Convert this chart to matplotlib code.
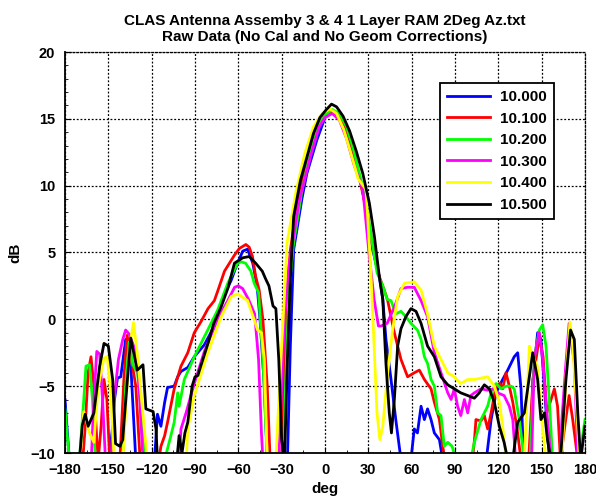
"""CLAS antenna azimuth cut, raw data, six frequencies (recreated)."""

import matplotlib
matplotlib.use("Agg")
import matplotlib.pyplot as plt
from matplotlib.ticker import MultipleLocator

plt.rcParams["font.family"] = ["Liberation Sans", "DejaVu Sans"]
plt.rcParams["font.weight"] = "bold"

TITLE = ("CLAS Antenna Assemby 3 & 4 1 Layer RAM 2Deg Az.txt\n"
         "Raw Data (No Cal and No Geom Corrections)")
LABELS = ["10.000", "10.100", "10.200", "10.300", "10.400", "10.500"]
COLORS = ["#0000ff", "#ff0000", "#00ff00", "#ff00ff", "#ffff00", "#000000"]

# (deg, dB) points; values below -10 run off the axes
blue_deg = [-180, -177, -150, -147, -146, -143.7, -141.4, -138, -134.5, -131, -118,
            -116, -113.6, -111, -109, -104.4, -102, -99.7, -95, -90.5, -83.5, -76.6,
            -72, -69.6, -65, -62, -57, -53.6, -50, -47, -45, -42, -40, -26, -24,
            -21.7, -16, -12.6, -5.7, 0, 5, 10, 15, 20, 24, 28, 33, 37.6, 40, 42.2,
            45.7, 49, 52.6, 59.5, 61.8, 64, 66.5, 68.8, 71, 73.4, 75.7, 79.2, 81.5,
            110, 112, 115, 118.4, 123, 126.5, 131, 133.4, 135.7, 137.5, 142, 144,
            147.2, 149.5, 152, 155.3, 180]
blue_db = [-6, -10.5, -11, -8, -6.2, -4.4, -4.3, -1.5, -3.3, -10.5, -10.5,
           -7.1, -8, -6.2, -5.1, -5, -4.3, -3.9, -3.6, -2.8, -1.9, -0.5,
           1.2, 1.9, 2.9, 3.8, 5.1, 5.25, 4.2, 2.5, 0, -5, -10.5, -10.5, -2,
           5.2, 9, 10.9, 13.4, 15.1, 15.5, 15.2, 14, 12, 10.7, 8.5, 5.2, 3.2, 1.5, -1.5,
           -4.5, -7.5, -10.5, -10.5, -8.2, -8.5, -6.5, -7.5, -6.7, -7.5, -8.5, -9, -10.5,
           -10.5, -10.2, -7.5, -5.5, -4.5, -3.8, -2.8, -2.5, -5.2, -10.5, -10.5, -4.5,
           -1, -1.5, -5.2, -10.5, -11]

red_deg = [-180, -168, -166, -164, -162, -160, -158, -157, -155, -153, -151, -149,
           -142, -139, -137, -134, -131, -128, -115, -113.6, -111, -109, -104.4,
           -99.7, -95, -90.5, -86, -81, -76.6, -74, -69.6, -62.7, -59.3, -54.8,
           -52.5, -50.2, -48, -45.6, -43, -40, -38, -30, -28, -26, -24, -18, -12,
           -6, 0, 5, 10, 15, 20, 25, 30, 35, 37.6, 41, 43.4, 48, 52.6, 57.2, 61.8,
           65.3, 68.8, 73.4, 75.7, 79.2, 81.5, 83, 102, 103.5, 104.5, 108, 110.3,
           112.6, 115, 118.4, 121, 123, 125.3, 127.6, 130, 133, 135.7, 141, 144,
           148.4, 151, 153.5, 156.5, 158.8, 161, 163, 166, 169, 171.5, 175, 180]
red_db = [-11, -11, -8, -4, -2.8, -5, -9, -10.5, -8, -4.5, -6, -10.5,
          -10.5, -4, -1.2, -3, -5, -10.5, -10.5, -9.5, -8.7, -7.7, -5.2,
          -3.5, -2.5, -1, -0.2, 0.8, 1.4, 2.2, 3.6, 4.8, 5.3, 5.6,
          5.4, 4.7, 3.2, 2.2, 0, -5, -10.5, -10.5, -3, 2, 5.2, 9.5, 12.2,
          14.2, 15.3, 15.6, 15.3, 14.2, 12.4, 10, 7.4, 4.3, 3.2, 2.2, 1.4, -1, -3, -4.3, -4,
          -3.8, -4.5, -5.2, -6.2, -7.5, -9.5, -10.5, -10.5, -9, -7.5, -7.6, -7.2,
          -8.2, -7, -5, -4.8, -5.2, -4, -5, -6.2, -8.2, -10.5, -10.5, -4.5,
          -1.3, -2.8, -7, -6, -5.2, -6.5, -10.5, -8, -5.7, -7.5, -10.5, -11]

green_deg = [-180, -177, -170, -167, -165.5, -163, -161, -159, -140, -138, -135.6,
             -133, -129.8, -126, -124, -111, -106.7, -104.4, -102, -101, -97.4,
             -90.5, -81.2, -74.3, -67.3, -60.5, -58, -55, -51.3, -49, -46, -43, -40,
             -29, -27, -25, -22, -16, -10, -4, 0, 5, 10, 15, 20, 25, 30, 36, 40, 43,
             45.7, 49, 52.6, 56, 59.5, 64, 66.5, 68.8, 71, 73.4, 75.7, 78, 80.3, 82.6,
             85, 88, 90.7, 101, 103.4, 108, 112.6, 115, 118.4, 121.9, 125.3, 128.8,
             131, 134.5, 138, 142, 145, 148.4, 150.7, 153, 155.5, 157.6, 176, 178, 180]
green_db = [-6.7, -10.5, -10.5, -6, -3.5, -3.4, -6, -10.5, -10.5, -5, -1.7,
            -3.4, -4, -8.2, -10.5, -10.5, -8.7, -7.7, -5.5, -6.5, -4.5,
            -2.8, -0.8, 0.7, 2.7, 4.2, 4.3, 4.2, 3.6, 2.7, 2, -3, -10.5,
            -10.5, -4, 2, 5.5, 9.6, 12.6, 14.6, 15.3, 15.7, 15.4, 14.4, 12.6, 10.4, 7.6, 3.5, 2.5, 1.5,
            1.4, 0.4, 0.6, 0.2, -0.3, -0.8, -1.5, -2.8, -3.3, -4.5, -5, -7, -7.2, -9.5,
            -9.2, -9.5, -10.5, -10.5, -9.2, -7.5, -6.5, -5.5, -4.8, -5.2, -5, -5,
            -5.2, -7.5, -10.5, -10.5, -2.8, -0.8, -0.4, -2, -6.5, -10.5, -10.5, -9, -7.5]

magenta_deg = [-180, -162, -160, -158, -156, -154, -152, -148, -146, -143, -140,
               -138, -135.6, -131, -129, -126, -101, -99.7, -96.2, -90.5, -83.5,
               -74.3, -67.3, -62.6, -60, -57, -53, -48.7, -46, -44, -43, -32, -30,
               -28, -25, -18, -10, -4, 0, 5, 10, 15, 20, 26.2, 30.7, 34, 37, 38.8, 43,
               48, 52.6, 57.2, 61.8, 66.5, 71, 75.7, 80.3, 85, 87.3, 89.5, 91.8, 94,
               96.5, 98.8, 101, 103.4, 108, 112.6, 117.2, 119.5, 124, 127.6, 130, 132,
               143, 145, 148.4, 150.7, 154, 156.5, 163, 164, 166.8, 169, 172.6, 175, 180]
magenta_db = [-11, -11, -6, -2.4, -2.6, -6, -10.5, -10.5, -6, -3, -1.5,
              -0.8, -1.1, -2.4, -4.5, -10.5, -10.5, -8.2, -7, -4.8, -2.4,
              0, 1.4, 2.4, 2.5, 2.3, 1.5, 0.4, -3, -8.5, -10.5, -10.5, -5,
              0, 4, 8.8, 12.2, 14.4, 15.1, 15.4, 14.9, 13.5, 11.6, 9.7, 4.7, 1.5, -0.5, -0.5, -0.3,
              0.9, 2.3, 2.4, 2.4, 1.4, 0.2, -2.5, -4, -5.5, -6, -5.2, -6.5, -7.2,
              -6, -7, -5.7, -5.5, -5.2, -5.3, -5.2, -5.5, -5.7, -6.5, -7.5, -10.5,
              -10.5, -2.8, -1, -3, -7.5, -10.5, -10.5, -7.5, -3.3, -0.3, -3.3, -10.5, -11]

yellow_deg = [-180, -170, -168, -167, -163, -160, -157, -153, -150.7, -148, -146,
              -140, -137, -134.5, -132.6, -130, -127, -123, -96, -95, -90.5, -81.2,
              -71.9, -65, -60.5, -53.6, -46.6, -44, -42, -40, -34, -31, -28, -26.3,
              -20, -14, -8, -2, 3.4, 8, 13, 18, 23, 28.5, 31.9, 34, 36, 38, 40, 43.4,
              46.8, 50.3, 55, 61.8, 66.5, 71, 75.7, 80.3, 85, 89.5, 94, 98.8, 103.4,
              108, 112.6, 117.2, 120.7, 123, 125.3, 138, 141.5, 144, 147, 149.5, 153,
              164, 167, 169.6, 171.5, 174.5, 176, 180]
yellow_db = [-11, -11, -8, -6.9, -8.5, -9.2, -5, -2.9, -2.8, -6, -10.5,
             -10.5, -5, -1.5, -0.25, -2.5, -6, -10.5, -10.5, -8.2, -5.7, -2.5,
             0.2, 1.7, 1.9, 1.4, -0.8, -1, -3, -10.5, -10.5, -4, 2, 5.7,
             9.6, 12.4, 14.4, 15.4, 15.75, 15.4, 14.2, 12.4, 10.5, 9.7, 3.2, -2, -7, -9, -8, -4,
             -0.8, 1.7, 2.7, 2.8, 2.2, 0.4, -2, -3, -4, -4.3, -4.8, -4.5, -4.5,
             -4.4, -4.3, -5, -6.2, -8, -10.5, -10.5, -2, -2.8, -3.5, -7, -10.5,
             -10.5, -4, -0.2, -2, -7, -10.5, -11]

black_deg = [-180, -172, -170, -168, -166, -164, -160, -156, -153, -150, -147, -145,
             -142, -140, -139, -137, -134.5, -130, -126, -124, -119, -117, -116,
             -103, -101, -99, -97, -95, -92, -90, -88, -86, -81, -77, -72, -67,
             -62.7, -57, -52.5, -48, -43.4, -41, -38.8, -36, -34, -32, -30, -28, -26,
             -24, -21.7, -17, -12.6, -8, -3.5, 1, 4.5, 8, 12.5, 17, 21.6, 26.2, 30.7,
             34.2, 37.6, 40, 42.2, 44.5, 46, 48, 50.3, 52.6, 56, 59.5, 63, 66.5, 71,
             75.7, 80.3, 85, 89.5, 94, 98.8, 103.4, 106.8, 110.3, 113.8, 117.2, 120.7,
             124, 126.5, 130, 133.4, 138, 140.3, 143.8, 147.2, 149.5, 152, 154, 156.5,
             163, 166.8, 170, 172.6, 175, 177, 180]
black_db = [-12, -12, -10.5, -7.9, -7.1, -8, -7, -3.5, -1.8, -2, -4.5, -9.3,
            -9.5, -9, -7.5, -4.8, -1.4, -3.8, -3.4, -6.7, -6.9, -8.2, -10.5,
            -11, -8.7, -10, -8.5, -7.7, -5, -4.3, -4.2, -3.5, -1.8, -0.3, 0.9, 2.4,
            4.2, 4.6, 4.7, 4.2, 3.6, 3.0, 2.5, 1.0, 0.8, -3, -9, -10.5, -3,
            3, 7.7, 10.4, 12.1, 13.9, 15.1, 15.7, 16.1, 15.9, 15.2, 14.1, 12.6, 10.9, 8.7,
            6.2, 3.2, 1.5, -3.3, -7, -8.5, -6, -2, -0.7, 0.2, 0.8, 0.6, -0.3, -2,
            -2.8, -4.3, -4.9, -5.2, -5.5, -5.7, -5.9, -5.5, -4.9, -5.2, -6.2, -8,
            -9.2, -10.5, -10.5, -7.7, -7, -5.2, -2.5, -4.5, -7.5, -7, -9, -10.5,
            -10.5, -4.5, -0.8, -1.5, -7, -10.5, -8]

SERIES = [(blue_deg, blue_db), (red_deg, red_db), (green_deg, green_db),
          (magenta_deg, magenta_db), (yellow_deg, yellow_db), (black_deg, black_db)]


def main() -> None:
    fig = plt.figure(figsize=(5.96, 4.98), dpi=100)
    ax = fig.add_axes([65 / 596, 45 / 498, 520 / 596, 401 / 498])

    for (x, y), c, lab in zip(SERIES, COLORS, LABELS):
        ax.plot(x, y, color=c, linewidth=2, label=lab)

    ax.set_xlim(-180, 180)
    ax.set_ylim(-10, 20)
    ax.xaxis.set_major_locator(MultipleLocator(30))
    ax.xaxis.set_minor_locator(MultipleLocator(15))
    ax.yaxis.set_major_locator(MultipleLocator(5))
    ax.yaxis.set_minor_locator(MultipleLocator(1))
    ax.tick_params(which="both", direction="in", labelsize=10.5)
    ax.tick_params(axis="x", pad=7)
    ax.tick_params(axis="y", pad=7)
    ax.tick_params(which="major", length=4)
    ax.tick_params(which="minor", length=2)
    for lab in ax.get_xticklabels() + ax.get_yticklabels():
        lab.set_fontweight("bold")
    ax.grid(True, which="major", color="black", linestyle=(0, (1.5, 1.5)), linewidth=0.9)
    for side in ("top", "right"):
        ax.spines[side].set_linestyle((0, (1.5, 1.5)))
        ax.spines[side].set_linewidth(0.9)
    for side in ("left", "bottom"):
        ax.spines[side].set_linewidth(1.3)

    ax.set_xlabel("deg", fontsize=11, fontweight="bold", labelpad=4)
    ax.set_ylabel("dB", fontsize=11, fontweight="bold", labelpad=6)
    ax.set_title(TITLE, fontsize=11, fontweight="bold", pad=8, linespacing=1.2)

    leg = ax.legend(loc="upper left", bbox_to_anchor=(440 / 596, 1 - 83 / 498),
                    bbox_transform=fig.transFigure, borderaxespad=0,
                    fancybox=False, framealpha=1, edgecolor="black",
                    prop={"size": 11, "weight": "bold"}, handlelength=2.8,
                    labelspacing=0.5, borderpad=0.45, handletextpad=0.7)
    leg.get_frame().set_linewidth(1.3)

    fig.savefig("out.png", dpi=100)


if __name__ == "__main__":
    main()
